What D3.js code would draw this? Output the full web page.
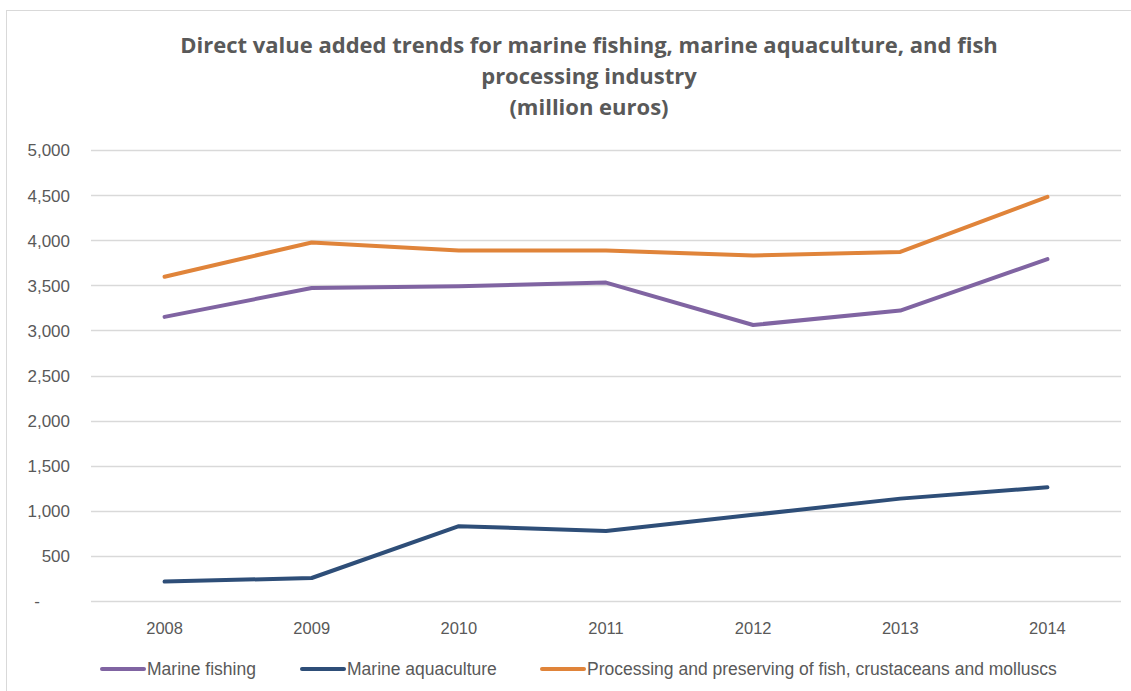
<!DOCTYPE html>
<html>
<head>
<meta charset="utf-8">
<script src="https://cdn.jsdelivr.net/npm/d3@7"></script>
<style>
  html, body { margin: 0; padding: 0; background: #fff; }
  svg { display: block; }
  text { font-family: "Liberation Sans", "Open Sans", "Noto Sans", sans-serif; }
</style>
</head>
<body>
<svg id="chart" width="1131" height="691"></svg>
<script>
// Years on the category axis
const years = ["2008", "2009", "2010", "2011", "2012", "2013", "2014"];

// Direct value added, million euros
const marineFishing = [3150, 3470, 3490, 3530, 3060, 3220, 3790];
const marineAquaculture = [215, 255, 830, 775, 955, 1135, 1260];
const processing = [3595, 3975, 3885, 3885, 3830, 3870, 4480];

// Series names as shown in the legend
const seriesNames = [
  "Marine fishing",
  "Marine aquaculture",
  "Processing and preserving of fish, crustaceans and molluscs"
];

// Y axis tick values
const yTicks = [0, 500, 1000, 1500, 2000, 2500, 3000, 3500, 4000, 4500, 5000];

const titleLines = [
  "Direct value added trends for marine fishing, marine aquaculture, and fish",
  "processing industry",
  "(million euros)"
];

const colors = ["#8064a2", "#2e4e78", "#e0843a"];
const series = [marineFishing, marineAquaculture, processing].map((vals, i) => ({
  name: seriesNames[i], color: colors[i],
  points: vals.map((v, j) => ({ year: years[j], value: v }))
}));

const svg = d3.select("#chart");
const W = 1131, H = 691;
const plot = { left: 91, right: 1121, top: 150, bottom: 601 };

// Outer chart frame
svg.append("rect")
  .attr("x", 6.5).attr("y", 10.5)
  .attr("width", W + 20).attr("height", H + 20)
  .attr("fill", "#fff").attr("stroke", "#d9d9d9").attr("stroke-width", 1);

// Title
const title = svg.append("text")
  .attr("text-anchor", "middle")
  .attr("fill", "#595959")
  .style("font-family", "'Open Sans', sans-serif")
  .style("font-weight", "700")
  .style("font-size", "22px");
titleLines.forEach((line, i) => {
  title.append("tspan")
    .attr("x", 589).attr("y", 53 + i * 31)
    .text(line);
});

const x = d3.scaleBand().domain(years).range([plot.left, plot.right]);
const y = d3.scaleLinear().domain([0, 5000]).range([plot.bottom, plot.top]);

// Horizontal gridlines
svg.append("g")
  .selectAll("line")
  .data(yTicks)
  .join("line")
  .attr("x1", plot.left).attr("x2", plot.right)
  .attr("y1", d => Math.round(y(d)) + 0.5).attr("y2", d => Math.round(y(d)) + 0.5)
  .attr("stroke", "#d9d9d9").attr("stroke-width", 1.3);

const fmt = d3.format(",");

// Y axis labels
const yAxis = svg.append("g")
  .attr("transform", `translate(${plot.left - 21},0)`)
  .call(d3.axisLeft(y).tickValues(yTicks).tickSize(0).tickPadding(0)
    .tickFormat(d => d === 0 ? "-" : fmt(d)));
yAxis.select(".domain").remove();
yAxis.selectAll("text")
  .attr("fill", "#595959")
  .style("font-size", "17px")
  .attr("dy", "0.35em")
  .attr("x", d => d === 0 ? -30 : 0);

// X axis labels
const xAxis = svg.append("g")
  .attr("transform", `translate(0,${plot.bottom})`)
  .call(d3.axisBottom(x).tickSize(0).tickPadding(21));
xAxis.select(".domain").remove();
xAxis.selectAll("text")
  .attr("fill", "#595959")
  .style("font-size", "16.5px");

// Series lines
const line = d3.line()
  .x(d => x(d.year) + x.bandwidth() / 2)
  .y(d => y(d.value));

svg.append("g")
  .selectAll("path")
  .data(series)
  .join("path")
  .attr("d", d => line(d.points))
  .attr("fill", "none")
  .attr("stroke", d => d.color)
  .attr("stroke-width", 4)
  .attr("stroke-linecap", "round")
  .attr("stroke-linejoin", "round");

// Legend
const legendX = [100, 300, 540];
const legend = svg.append("g")
  .selectAll("g")
  .data(series)
  .join("g")
  .attr("transform", (d, i) => `translate(${legendX[i]},669)`);
legend.append("line")
  .attr("x1", 2).attr("x2", 44).attr("y1", 0).attr("y2", 0)
  .attr("stroke", d => d.color).attr("stroke-width", 4)
  .attr("stroke-linecap", "round");
legend.append("text")
  .attr("x", 47).attr("y", 0).attr("dy", "0.35em")
  .attr("fill", "#595959")
  .style("font-size", "17.5px")
  .text(d => d.name);
</script>
</body>
</html>
